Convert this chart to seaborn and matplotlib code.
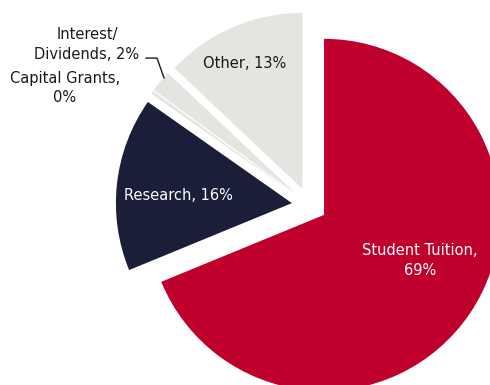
import matplotlib
matplotlib.use("Agg")
import matplotlib.pyplot as plt
import seaborn as sns

# Revenue sources, drawn clockwise from 12 o'clock
categories = ["Student Tuition", "Research", "Capital Grants", "Interest/\nDividends", "Other"]
shares = [69, 16, 0.3, 2, 13]
slice_colors = ["#BF002D", "#1B1E38", "#E4E4E0", "#E4E4E0", "#E4E4E0"]

sns.set_theme(style="white")
plt.rcParams["font.family"] = ["DejaVu Sans"]
palette = sns.color_palette(slice_colors)

fig = plt.figure(figsize=(4.9, 3.85), dpi=100)
ax = fig.add_axes([0, 0, 1, 1])

wedges, _ = ax.pie(
    shares,
    colors=palette,
    startangle=90,
    counterclock=False,
    explode=[0.1] * len(shares),
    radius=1.0,
    wedgeprops=dict(linewidth=0),
)

labels = [f"{c}, {s:.0f}%" for c, s in zip(categories, shares)]
labels[0] = f"{categories[0]},\n{shares[0]:.0f}%"
labels[2] = f"{categories[2]},\n{shares[2]:.0f}%"

label_style = dict(ha="center", va="center", fontsize=10.5, linespacing=1.4)
ax.text(0.628, -0.313, labels[0], color="white", **label_style)
ax.text(-0.747, 0.057, labels[1], color="white", **label_style)
ax.text(-1.389, 0.665, labels[2], color="#1a1a1a", **label_style)
ax.text(-1.264, 0.912, labels[3], color="#1a1a1a", **label_style)
ax.text(-0.366, 0.807, labels[4], color="#1a1a1a", **label_style)

# leader line for the small interest slice
ax.plot([-0.930, -0.866, -0.826], [0.835, 0.835, 0.722], color="#1a1a1a", lw=1.0)

ax.set_xlim(-1.758, 1.026)
ax.set_ylim(-1.022, 1.165)
ax.set_aspect("auto")
ax.axis("off")

fig.savefig("out.png", dpi=100, facecolor="white")
